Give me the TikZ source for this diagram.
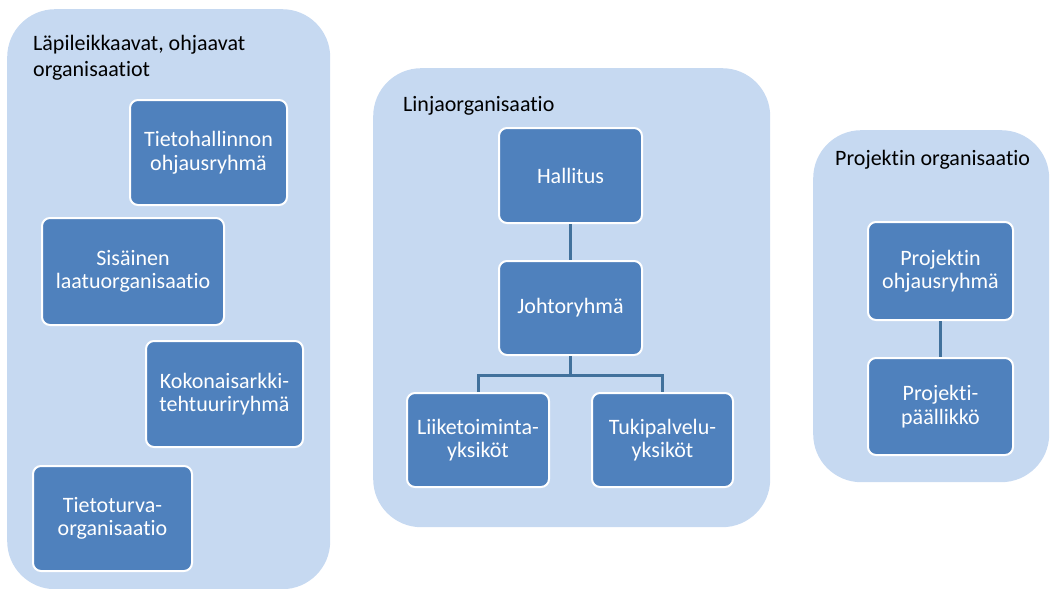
\documentclass[tikz,border=0pt]{standalone}
\usepackage{fontspec}
\setmainfont{Carlito}[Ligatures=NoCommon]
\usetikzlibrary{calc}
\definecolor{panel}{HTML}{C6D9F1}
\definecolor{unit}{HTML}{4F81BD}
\definecolor{link}{HTML}{41719C}
\begin{document}
\begin{tikzpicture}[x=1pt,y=-1pt,
  panelbox/.style={fill=panel, rounded corners=48pt, inner sep=0pt, anchor=north west},
  unitbox/.style={fill=unit, draw=white, line width=2pt, rounded corners=8pt,
    text=white, align=center, inner sep=0pt, font=\fontsize{22}{23.5}\selectfont},
  heading/.style={anchor=west, align=left, inner sep=0pt, text=black,
    font=\fontsize{22}{26}\selectfont},
  wire/.style={draw=link, line width=3pt}]
\useasboundingbox (0,0) rectangle (1050,589);

% three panels
\node[panelbox, minimum width=323pt, minimum height=580pt] (pleft) at (7,9) {};
\node[panelbox, minimum width=397pt, minimum height=459pt] (pmid) at (373,68) {};
\node[panelbox, minimum width=236pt, minimum height=352pt] (pright) at (813,130) {};

% panel headings
\node[heading] (hleft) at (33,58) {Läpileikkaavat, ohjaavat\\organisaatiot};
\node[heading] (hmid) at (403,106) {Linjaorganisaatio};
\node[heading] (hright) at (835,160) {Projektin organisaatio};

% cross-cutting bodies
\node[unitbox, minimum width=157pt, minimum height=105pt] (tieto) at (208.5,152.5) {Tietohallinnon\\ohjausryhmä};
\node[unitbox, minimum width=182pt, minimum height=107pt] (laatu) at (133,271.5) {Sisäinen\\laatuorganisaatio};
\node[unitbox, minimum width=157pt, minimum height=106pt] (arkki) at (224.5,394) {Kokonaisarkki-\\tehtuuriryhmä};
\node[unitbox, minimum width=159pt, minimum height=105pt] (turva) at (112.5,518.5) {Tietoturva-\\organisaatio};

% line organisation
\node[unitbox, minimum width=143pt, minimum height=95pt] (hall) at (570.5,175.5) {Hallitus};
\node[unitbox, minimum width=143pt, minimum height=94pt] (joht) at (570.5,308) {Johtoryhmä};
\node[unitbox, minimum width=142pt, minimum height=94pt] (liike) at (478,440) {Liiketoiminta-\\yksiköt};
\node[unitbox, minimum width=141pt, minimum height=94pt] (tuki) at (662.5,440) {Tukipalvelu-\\yksiköt};

% project organisation
\node[unitbox, minimum width=145pt, minimum height=98pt] (pohj) at (940.5,271) {Projektin\\ohjausryhmä};
\node[unitbox, minimum width=145pt, minimum height=97pt] (ppaa) at (940.5,406.5) {Projekti-\\päällikkö};

% reporting lines
\draw[wire] (hall.south) -- (joht.north);
\coordinate (bus) at ($(joht.south)+(0,19)$);
\draw[wire] (joht.south) -- (bus) -| (liike.north);
\draw[wire] (bus) -| (tuki.north);
\draw[wire] (pohj.south) -- (ppaa.north);
\end{tikzpicture}
\end{document}
